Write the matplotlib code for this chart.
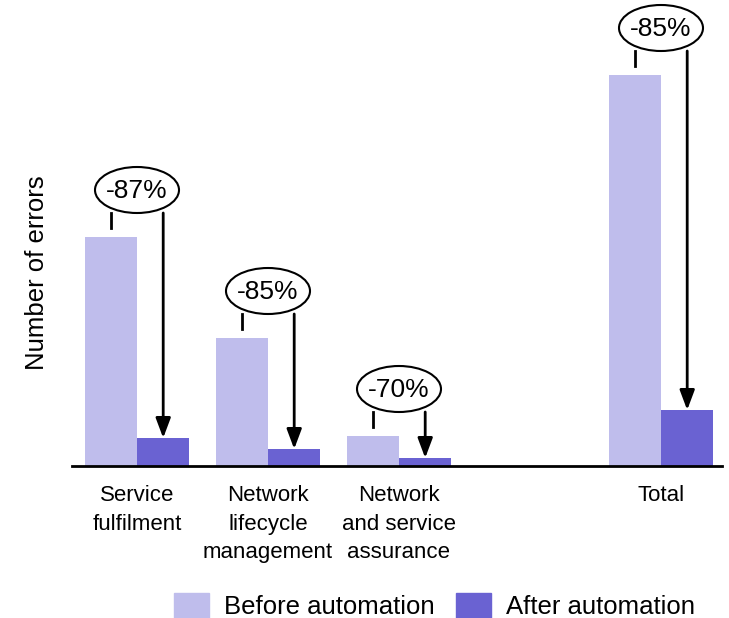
import numpy as np
import matplotlib.pyplot as plt
from matplotlib.patches import Ellipse, Patch

plt.rcParams['font.family'] = ['Liberation Sans', 'DejaVu Sans']

categories = ['Service\nfulfilment', 'Network\nlifecycle\nmanagement',
              'Network\nand service\nassurance', 'Total']
positions = [0, 1, 2, 4]
before = [229, 128, 30, 391]
after = [28, 17, 8, 56]
changes = ['-87%', '-85%', '-70%', '-85%']

c_before = '#bfbdec'
c_after = '#6a62d2'

fig = plt.figure(figsize=(7.29, 6.18), dpi=100)
ax = fig.add_axes([72 / 729, 152 / 618, 650 / 729, 466 / 618])

w = 0.4
x = np.array(positions, dtype=float)
ax.bar(x - w / 2, before, w, color=c_before, label='Before automation')
ax.bar(x + w / 2, after, w, color=c_after, label='After automation')

# reduction callouts: tick over the before bar, arrow down to the after bar
for xi, b, a, txt in zip(x, before, after, changes):
    cy = b + 47
    ax.add_patch(Ellipse((xi, cy), 84 / 131, 46, facecolor='white',
                         edgecolor='black', lw=1.5, zorder=4, clip_on=False))
    ax.text(xi, cy - 1, txt, ha='center', va='center', fontsize=19, zorder=5)
    ax.plot([xi - w / 2, xi - w / 2], [cy - 23, b + 9], color='black', lw=2)
    ax.annotate('', xy=(xi + w / 2, a), xytext=(xi + w / 2, cy - 23),
                arrowprops=dict(arrowstyle='-|>,head_length=1.2,head_width=0.45',
                                color='black', lw=2, shrinkA=0, shrinkB=0))

ax.set_xlim(-65 / 131, 585 / 131)
ax.set_ylim(0, 466)
ax.set_xticks(x)
ax.set_xticklabels(categories, fontsize=16, linespacing=1.45)
ax.tick_params(axis='x', length=0, pad=14)
ax.set_yticks([])
for s in ['top', 'right', 'left']:
    ax.spines[s].set_visible(False)
ax.spines['bottom'].set_linewidth(2)
ax.set_ylabel('Number of errors', fontsize=18.5)
ax.yaxis.set_label_coords(-23 / 650, 0.414)

handles = [Patch(color=c_before), Patch(color=c_after)]
fig.legend(handles, ['Before automation', 'After automation'], loc='center',
           bbox_to_anchor=(434.5 / 729, 12 / 618), ncol=2, frameon=False,
           fontsize=18.5, handlelength=1.36, handleheight=1.09,
           columnspacing=0.82, handletextpad=0.58)

fig.savefig('out.png')
